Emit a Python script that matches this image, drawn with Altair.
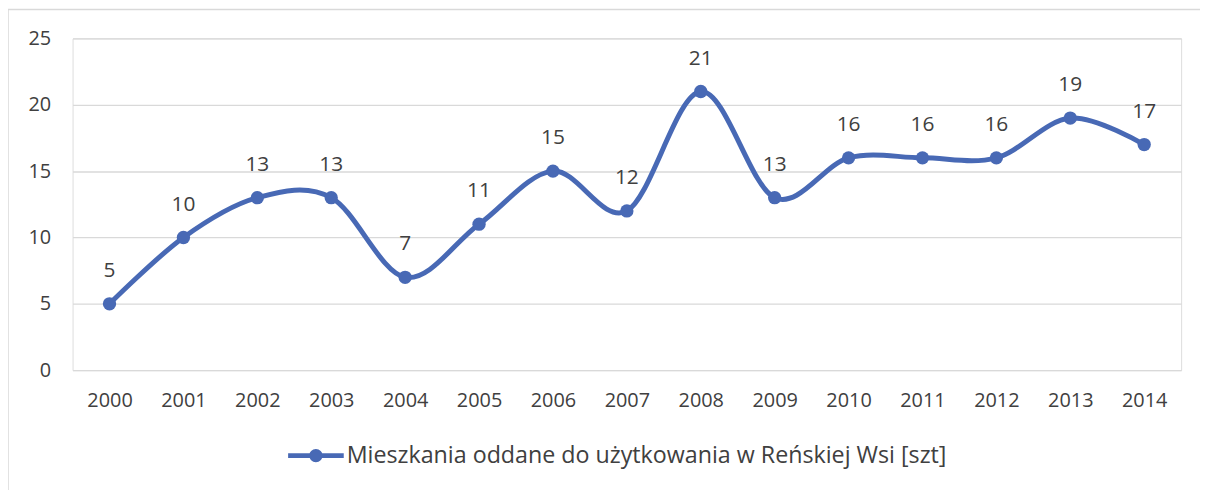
import altair as alt
import pandas as pd

years = [str(y) for y in range(2000, 2015)]
values = [5, 10, 13, 13, 7, 11, 15, 12, 21, 13, 16, 16, 16, 19, 17]
series_name = "Mieszkania oddane do użytkowania w Reńskiej Wsi [szt]"
y_ticks = [0, 5, 10, 15, 20, 25]

BLUE = "#4869B5"
TXT = "#404040"
FONT = "Open Sans"

df = pd.DataFrame({"rok": years, "wartosc": values, "seria": [series_name] * len(years)})

# legend symbol: horizontal line with a dot in the middle (unit box -1..1)
sym = ("M-1,-0.085 L-0.2,-0.085 L-0.2,0.085 L-1,0.085 Z "
       "M0.2,-0.085 L1,-0.085 L1,0.085 L0.2,0.085 Z "
       "M-0.24,0 A0.24,0.24 0 1,1 0.24,0 A0.24,0.24 0 1,1 -0.24,0 Z")

x_enc = alt.X("rok:O", sort=years, title=None,
              scale=alt.Scale(type="point", padding=0.5),
              axis=alt.Axis(labelAngle=0, labelFontSize=20, labelFont=FONT, labelColor=TXT,
                            labelPadding=21, ticks=False, domain=False, grid=False))
y_enc = alt.Y("wartosc:Q", title=None,
              scale=alt.Scale(domain=[0, 25], nice=False, zero=True),
              axis=alt.Axis(values=y_ticks, labelFontSize=20, labelFont=FONT, labelColor=TXT,
                            labelPadding=22, ticks=False, domain=False, grid=True,
                            gridColor="#d9d9d9", gridWidth=1.3))

color_enc = alt.Color("seria:N", scale=alt.Scale(range=[BLUE]), title=None,
                      legend=alt.Legend(orient="none", legendX=217, legendY=392, direction="horizontal",
                                        symbolType=sym, symbolSize=3136, symbolStrokeWidth=0,
                                        symbolFillColor=BLUE, labelFontSize=23.4, labelFont=FONT,
                                        labelColor=TXT, labelOffset=3, padding=0,
                                        labelLimit=1000))

border = alt.Chart(df).mark_rect(fill=None, stroke="#d9d9d9", strokeWidth=1.5, clip=False).encode(
    x=alt.value(-65), x2=alt.value(1300), y=alt.value(-29), y2=alt.value(480)
).transform_filter(alt.datum.rok == "2000")

line = alt.Chart(df).mark_line(interpolate="cardinal", strokeWidth=5, color=BLUE).encode(
    x=x_enc, y=y_enc
)

points = alt.Chart(df).mark_point(filled=True, size=180, opacity=1, shape="circle").encode(
    x=x_enc, y=y_enc, color=color_enc
)

labels = alt.Chart(df).mark_text(fontSize=21, font=FONT, color=TXT, dy=-33, baseline="middle").encode(
    x=x_enc, y=y_enc, text=alt.Text("wartosc:Q")
)

chart = alt.layer(border, line, points, labels).properties(
    width=1116, height=334,
    autosize=alt.AutoSizeParams(type="none"),
    padding={"left": 65, "top": 29, "right": 19, "bottom": 119},
).configure_view(stroke=None).configure(background="white")

chart.save("out.html", embed_options={"renderer": "svg", "actions": False})
